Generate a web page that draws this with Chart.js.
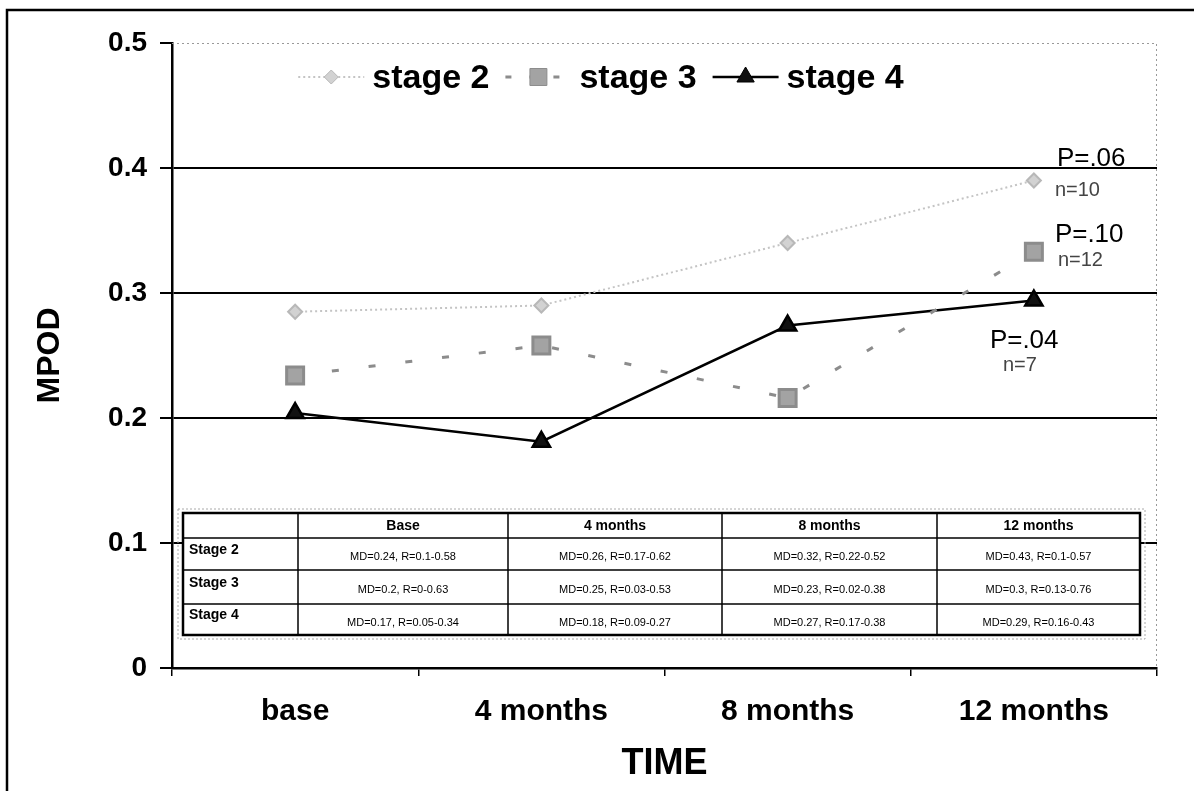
<!DOCTYPE html>
<html>
<head>
<meta charset="utf-8">
<script src="https://cdn.jsdelivr.net/npm/chart.js@4"></script>
<style>
    html, body { margin: 0; padding: 0; background: #fff; }
    #wrap { position: relative; width: 1194px; height: 791px; }
</style>
</head>
<body>
<div id="wrap"><canvas id="chart-mpod"></canvas></div>
<script>
const TIMES = ['base', '4 months', '8 months', '12 months']
const STAGE2 = [0.285, 0.290, 0.340, 0.390]
const STAGE3 = [0.234, 0.258, 0.216, 0.333]
const STAGE4 = [0.204, 0.181, 0.274, 0.294]
const SERIES_NAMES = ['stage 2', 'stage 3', 'stage 4']

const P_VALUES = ['P=.06', 'P=.10', 'P=.04']
const N_VALUES = ['n=10', 'n=12', 'n=7']

const TABLE_HEAD = ['', 'Base', '4 months', '8 months', '12 months']
const TABLE_ROWS = [
    ['Stage 2', 'MD=0.24, R=0.1-0.58', 'MD=0.26, R=0.17-0.62', 'MD=0.32, R=0.22-0.52', 'MD=0.43, R=0.1-0.57'],
    ['Stage 3', 'MD=0.2, R=0-0.63', 'MD=0.25, R=0.03-0.53', 'MD=0.23, R=0.02-0.38', 'MD=0.3, R=0.13-0.76'],
    ['Stage 4', 'MD=0.17, R=0.05-0.34', 'MD=0.18, R=0.09-0.27', 'MD=0.27, R=0.17-0.38', 'MD=0.29, R=0.16-0.43'],
]

const FONT = 'Arial, "Liberation Sans", sans-serif'

// frame around the whole picture + dotted plot border
const framePlugin = {
    id: 'frame',
    beforeDraw(chart) {
        const ctx = chart.ctx
        ctx.save()
        ctx.fillStyle = '#fff'
        ctx.fillRect(0, 0, chart.width, chart.height)
        ctx.strokeStyle = '#000'
        ctx.lineWidth = 2.5
        ctx.beginPath()
        ctx.moveTo(7, chart.height)
        ctx.lineTo(7, 10)
        ctx.lineTo(chart.width, 10)
        ctx.stroke()
        ctx.restore()
    },
    beforeDatasetsDraw(chart) {
        const { ctx, chartArea } = chart
        ctx.save()
        ctx.strokeStyle = '#999'
        ctx.lineWidth = 1
        ctx.setLineDash([2, 3])
        ctx.beginPath()
        ctx.moveTo(chartArea.left, chartArea.top + 0.5)
        ctx.lineTo(chartArea.right - 0.5, chartArea.top + 0.5)
        ctx.lineTo(chartArea.right - 0.5, chartArea.bottom)
        ctx.stroke()
        ctx.restore()
    },
}

// legend drawn inside the plot, line + marker like the original
const lineLegendPlugin = {
    id: 'lineLegend',
    afterDraw(chart) {
        const ctx = chart.ctx
        const y = 77
        const lineW = 66
        ctx.save()
        ctx.font = 'bold 34px ' + FONT
        ctx.textBaseline = 'middle'
        const items = chart.data.datasets.map((ds) => ({ ds, w: ctx.measureText(ds.label).width }))
        const gap = 16
        const total = items.reduce((s, it) => s + lineW + 8 + it.w, 0) + gap * (items.length - 1)
        let x = 601 - total / 2
        items.forEach(({ ds, w }) => {
            ctx.save()
            ctx.strokeStyle = ds.borderColor
            ctx.lineWidth = ds.borderWidth
            ctx.setLineDash(ds.legendDash || ds.borderDash || [])
            ctx.beginPath()
            ctx.moveTo(x, y)
            ctx.lineTo(x + lineW, y)
            ctx.stroke()
            ctx.setLineDash([])
            ctx.fillStyle = ds.pointBackgroundColor
            ctx.strokeStyle = ds.pointBorderColor
            ctx.lineWidth = 1
            Chart.helpers.drawPoint(ctx, { pointStyle: ds.pointStyle, radius: ds.pointRadius, rotation: 0, borderWidth: 1 }, x + lineW / 2, y)
            ctx.restore()
            ctx.fillStyle = '#000'
            ctx.fillText(ds.label, x + lineW + 8, y + 2)
            x += lineW + 8 + w + gap
        })
        ctx.restore()
    },
}

// P and n labels next to the last point of each series
const LABEL_OFFSETS = [
    { p: [23, -15], n: [21, 15] },
    { p: [21, -10], n: [24, 14] },
    { p: [-44, 47], n: [-31, 70] },
]
const endLabelPlugin = {
    id: 'endLabels',
    afterDatasetsDraw(chart) {
        const ctx = chart.ctx
        ctx.save()
        ctx.textBaseline = 'alphabetic'
        ctx.textAlign = 'left'
        chart.data.datasets.forEach((ds, i) => {
            const pts = chart.getDatasetMeta(i).data
            const last = pts[pts.length - 1]
            const off = LABEL_OFFSETS[i]
            ctx.fillStyle = '#000'
            ctx.font = '26px ' + FONT
            ctx.fillText(P_VALUES[i], last.x + off.p[0], last.y + off.p[1])
            ctx.fillStyle = '#444'
            ctx.font = '20px ' + FONT
            ctx.fillText(N_VALUES[i], last.x + off.n[0], last.y + off.n[1])
        })
        ctx.restore()
    },
}

// summary table sitting in the lower part of the plot
const tablePlugin = {
    id: 'mdTable',
    afterDatasetsDraw(chart) {
        const { ctx, chartArea } = chart
        const L = chartArea.left
        const B = chartArea.bottom
        const cols = [L + 11, L + 126, L + 336, L + 550, L + 765, L + 968]
        const rows = [B - 155, B - 130, B - 98, B - 64, B - 33]
        ctx.save()
        // grey outer frame
        ctx.strokeStyle = '#aaa'
        ctx.lineWidth = 1
        ctx.setLineDash([2, 2])
        ctx.strokeRect(cols[0] - 5, rows[0] - 4, cols[5] - cols[0] + 10, rows[4] - rows[0] + 8)
        ctx.setLineDash([])
        ctx.fillStyle = '#fff'
        ctx.fillRect(cols[0], rows[0], cols[5] - cols[0], rows[4] - rows[0])
        ctx.strokeStyle = '#000'
        ctx.lineWidth = 1.5
        rows.forEach((ry) => {
            ctx.beginPath()
            ctx.moveTo(cols[0], ry)
            ctx.lineTo(cols[5], ry)
            ctx.stroke()
        })
        cols.forEach((cx) => {
            ctx.beginPath()
            ctx.moveTo(cx, rows[0])
            ctx.lineTo(cx, rows[4])
            ctx.stroke()
        })
        ctx.lineWidth = 2.5
        ctx.strokeRect(cols[0], rows[0], cols[5] - cols[0], rows[4] - rows[0])

        ctx.fillStyle = '#000'
        ctx.textBaseline = 'middle'
        ctx.font = 'bold 14px ' + FONT
        ctx.textAlign = 'center'
        TABLE_HEAD.forEach((h, c) => {
            if (h) ctx.fillText(h, (cols[c] + cols[c + 1]) / 2, (rows[0] + rows[1]) / 2 + 1)
        })
        TABLE_ROWS.forEach((row, r) => {
            const my = (rows[r + 1] + rows[r + 2]) / 2
            ctx.font = 'bold 14px ' + FONT
            ctx.textAlign = 'left'
            ctx.fillText(row[0], cols[0] + 6, my - 4)
            ctx.font = '11px ' + FONT
            ctx.textAlign = 'center'
            for (let c = 1; c < row.length; c++) {
                ctx.fillText(row[c], (cols[c] + cols[c + 1]) / 2, my + 3)
            }
        })
        ctx.restore()
    },
}

const chartMpod = new Chart(document.getElementById('chart-mpod'), {
    type: 'line',
    data: {
        labels: TIMES,
        datasets: [
            {
                label: SERIES_NAMES[0],
                data: STAGE2,
                borderColor: '#c4c4c4',
                borderWidth: 2,
                borderDash: [2, 3],
                pointStyle: 'rectRot',
                pointRadius: 7,
                pointBackgroundColor: '#d2d2d2',
                pointBorderColor: '#b8b8b8',
            },
            {
                label: SERIES_NAMES[1],
                data: STAGE3,
                borderColor: '#8c8c8c',
                borderWidth: 3,
                borderDash: [7, 30],
                legendDash: [6, 18],
                pointStyle: 'rect',
                pointRadius: 12,
                pointBackgroundColor: '#a3a3a3',
                pointBorderColor: '#8c8c8c',
            },
            {
                label: SERIES_NAMES[2],
                data: STAGE4,
                borderColor: '#000',
                borderWidth: 2.5,
                pointStyle: 'triangle',
                pointRadius: 10,
                pointBackgroundColor: '#111',
                pointBorderColor: '#000',
            },
        ],
    },
    options: {
        responsive: true,
        maintainAspectRatio: false,
        animation: false,
        layout: {
            padding: { left: 12, top: 43, right: 37, bottom: 0 },
        },
        plugins: {
            legend: { display: false },
            tooltip: { enabled: false },
        },
        elements: {
            line: { tension: 0 },
            point: { borderWidth: 1 },
        },
        scales: {
            x: {
                offset: true,
                afterFit: (scale) => { scale.height = 123 },
                grid: {
                    offset: true,
                    drawOnChartArea: false,
                    drawTicks: true,
                    tickLength: 8,
                    tickColor: '#000',
                    lineWidth: 1.5,
                },
                border: { color: '#000', width: 2.5 },
                ticks: {
                    color: '#000',
                    padding: 18,
                    font: { family: FONT, size: 30, weight: 'bold' },
                },
                title: {
                    display: true,
                    text: 'TIME',
                    color: '#000',
                    padding: { top: 0, bottom: 5 },
                    font: { family: FONT, size: 36, weight: 'bold' },
                },
            },
            y: {
                min: 0,
                max: 0.5,
                afterFit: (scale) => { scale.width = 160 },
                grid: {
                    color: (c) => (c.tick && (c.tick.value === 0 || c.tick.value === 0.5) ? 'rgba(0,0,0,0)' : '#000'),
                    tickColor: '#000',
                    lineWidth: 2,
                    tickLength: 12,
                },
                border: { color: '#000', width: 2.5 },
                ticks: {
                    stepSize: 0.1,
                    color: '#000',
                    padding: 13,
                    font: { family: FONT, size: 28, weight: 'bold' },
                    callback: (v) => (v === 0 ? '0' : Number(v).toFixed(1)),
                },
                title: {
                    display: true,
                    text: 'MPOD',
                    color: '#000',
                    padding: { top: 19, bottom: 0 },
                    font: { family: FONT, size: 32, weight: 'bold' },
                },
            },
        },
    },
    plugins: [framePlugin, tablePlugin, endLabelPlugin, lineLegendPlugin],
})
</script>
</body>
</html>
